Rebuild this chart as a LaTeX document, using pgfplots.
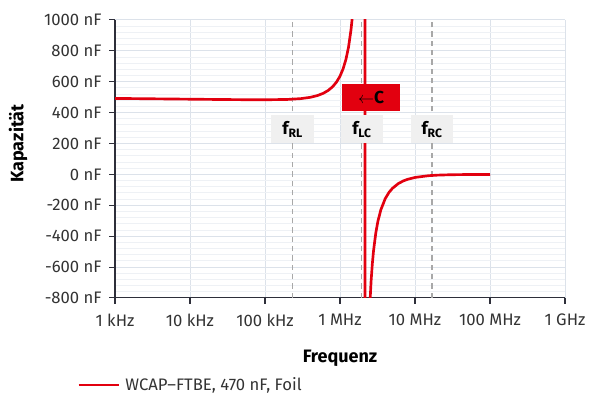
\documentclass[border=0pt]{standalone}
\usepackage{pgfplots}
\pgfplotsset{compat=1.18}
\usepackage{fontspec}
\setmainfont{Fira Sans}
\definecolor{wred}{HTML}{E2000F}
\definecolor{gmaj}{HTML}{DCE2EA}
\definecolor{gmin}{HTML}{EEF1F5}
\definecolor{axcol}{HTML}{2E2F3A}
\definecolor{txt}{HTML}{333333}
\definecolor{dashg}{HTML}{A8A8A8}
\definecolor{boxg}{HTML}{F0F0F0}
\begin{document}
\begin{tikzpicture}
\begin{axis}[
  scale only axis,
  width=337.5pt, height=208.5pt,
  xmode=log, log basis x=10,
  xmin=1e3, xmax=1e9,
  ymin=-800, ymax=1000,
  axis lines*=left,
  axis line style={axcol, line width=0.8pt},
  xtick={1e3,1e4,1e5,1e6,1e7,1e8,1e9},
  xticklabels={1 kHz,10 kHz,100 kHz,1 MHz,10 MHz,100 MHz,1 GHz},
  ytick={-800,-600,-400,-200,0,200,400,600,800,1000},
  yticklabels={-800 nF,-600 nF,-400 nF,-200 nF,0 nF,200 nF,400 nF,600 nF,800 nF,1000 nF},
  minor y tick num=4,
  grid=both,
  major grid style={gmaj, line width=0.75pt},
  minor grid style={gmin, line width=0.75pt},
  tick align=outside,
  major tick length=4.5pt,
  minor tick length=0pt,
  tick style={axcol, line width=0.8pt},
  tick label style={font=\fontsize{12.5}{14}\selectfont, text=txt},
  xticklabel style={yshift=-4pt},
  yticklabel style={xshift=-2pt},
  xlabel={\textbf{Frequenz}},
  ylabel={\textbf{Kapazität}},
  label style={font=\fontsize{13.5}{16}\selectfont},
  xlabel style={at={(axis description cs:0.5,-0.2158)}, anchor=center},
  ylabel style={at={(axis description cs:-0.2156,0.556)}, anchor=center},
  legend style={at={(axis description cs:-0.0844,-0.313)}, anchor=west, draw=none, fill=none, inner sep=0pt,
    font=\fontsize{12.5}{14}\selectfont, text=txt, nodes={inner sep=4pt}},
  legend image code/.code={\draw[#1] (0pt,0pt) -- (30pt,0pt);},
]
\addplot[dashg, line width=1.1pt, dash pattern=on 4pt off 3pt, forget plot] coordinates {(2.34e5,-800) (2.34e5,1000)};
\addplot[dashg, line width=1.1pt, dash pattern=on 4pt off 3pt, forget plot] coordinates {(1.95e6,-800) (1.95e6,1000)};
\addplot[dashg, line width=1.1pt, dash pattern=on 4pt off 3pt, forget plot] coordinates {(1.69e7,-800) (1.69e7,1000)};
\addplot[wred, line width=2pt] coordinates {
(1e3,492.0) (2e3,490.5) (5e3,488.5) (1e4,487.0) (2e4,485.5) (5e4,483.8)
(1e5,483.2) (2e5,485.4) (3e5,490.6) (4e5,499.0) (5e5,510.4) (6e5,525.4)
(7e5,544.5) (8e5,568.5) (9e5,598.4) (1e6,636.0) (1.1e6,683.6) (1.2e6,744.7)
(1.3e6,824.9) (1.4e6,933.9) (1.45e6,1003.8) (1.5e6,1088.2) (1.6e6,1321.9)
(1.8e6,2503) (1.9e6,4877) (2.145e6,20000)
(2.155e6,-20000) (2.3e6,-1473) (2.4e6,-1079.8) (2.5e6,-844.4) (2.6e6,-688.3)
(2.7e6,-577.3) (2.8e6,-494.5) (3.0e6,-379.7) (3.2e6,-304.2) (3.5e6,-230.0)
(4e6,-158.0) (4.5e6,-116.6) (5e6,-90.2) (6e6,-59.1) (7e6,-42.0) (8e6,-31.5)
(1e7,-19.7) (1.5e7,-8.53) (2e7,-4.75) (3e7,-2.10) (5e7,-0.75) (1e8,-0.19)
};
\addlegendentry{WCAP--FTBE, 470 nF, Foil}
\node[fill=boxg, minimum width=32pt, minimum height=21pt, inner sep=0pt, font=\fontsize{13}{15}\selectfont\bfseries] at (axis cs:2.34e5,292) {f\textsubscript{RL}};
\node[fill=boxg, minimum width=32pt, minimum height=21pt, inner sep=0pt, font=\fontsize{13}{15}\selectfont\bfseries] at (axis cs:1.97e6,292) {f\textsubscript{LC}};
\node[fill=boxg, minimum width=32pt, minimum height=21pt, inner sep=0pt, font=\fontsize{13}{15}\selectfont\bfseries] at (axis cs:1.69e7,292) {f\textsubscript{RC}};
\node[fill=wred, minimum width=43.5pt, minimum height=20pt, inner sep=0pt, font=\fontsize{13}{15}\selectfont\bfseries] at (axis cs:2.59e6,498) {$\leftarrow$C};
\end{axis}
\path[use as bounding box] (-86.25pt,-72pt) rectangle (356.25pt,223.5pt);
\end{tikzpicture}
\end{document}
